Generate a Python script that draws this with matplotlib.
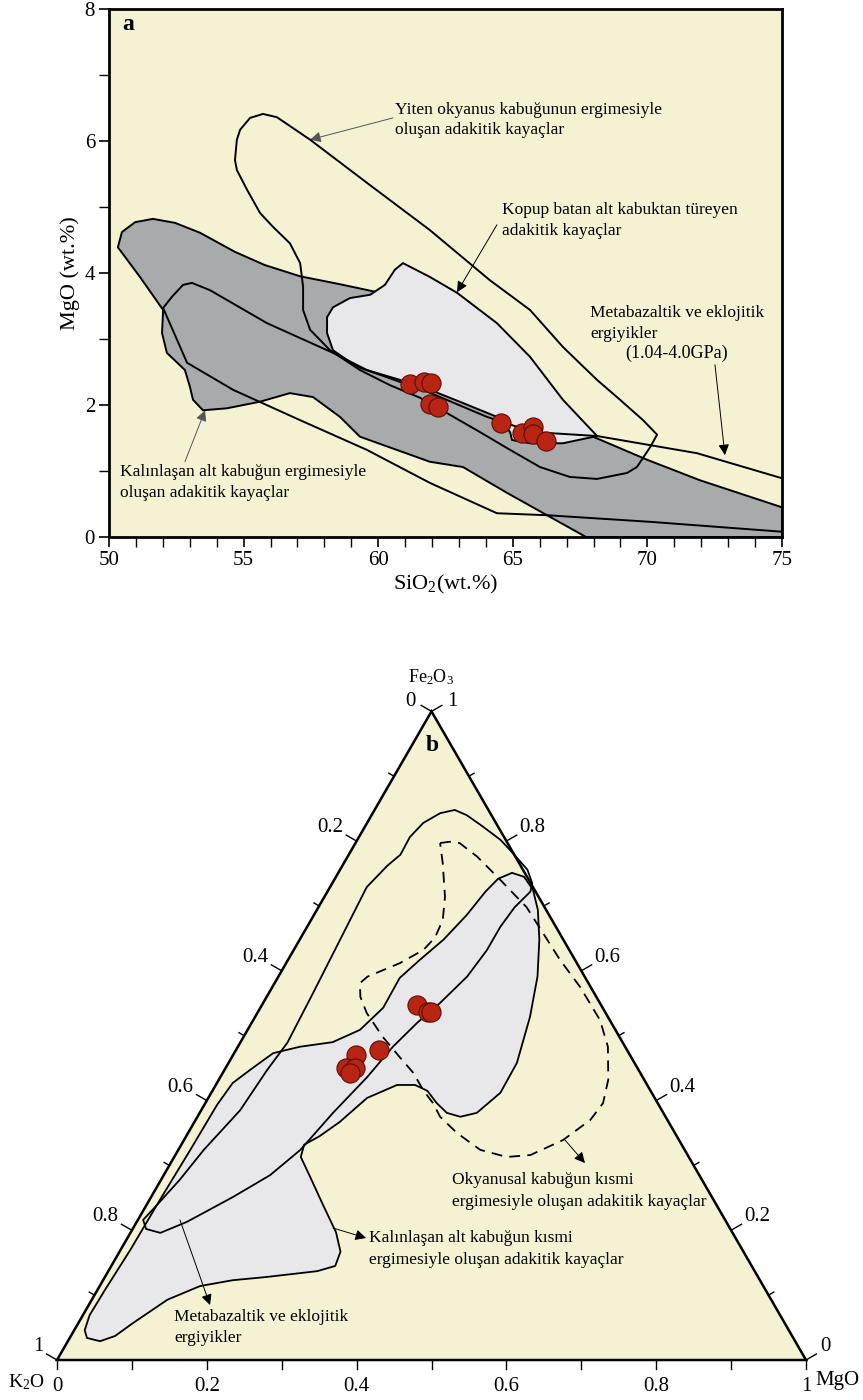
import numpy as np
import matplotlib
matplotlib.use('Agg')
import matplotlib.pyplot as plt
from matplotlib.patches import Polygon

plt.rcParams['font.family'] = ['Liberation Serif', 'DejaVu Serif']
plt.rcParams['mathtext.fontset'] = 'custom'
plt.rcParams['mathtext.rm'] = 'Liberation Serif'
plt.rcParams['mathtext.it'] = 'Liberation Serif:italic'
plt.rcParams['mathtext.bf'] = 'Liberation Serif:bold'

BG = '#f5f2d3'
DARK = '#a9aaac'
LIGHT = '#e8e8ea'
RED = '#b82512'
REDEDGE = '#5c0d05'

# ---------------- panel a data (SiO2, MgO wt.%) ----------------
oceanic_sio2 = [57.21, 57.10, 56.72, 56.09, 55.61, 55.13, 54.75, 54.68, 54.75, 54.87, 55.24, 55.72, 56.24,
                57.47, 59.70, 61.92, 64.15, 65.64, 66.86, 68.13, 68.87, 69.84, 70.36, 70.10, 69.61, 69.24,
                68.13, 67.12, 66.01, 64.90, 63.78, 62.67, 61.55, 60.44, 59.32, 58.21, 57.47, 57.21]
oceanic_mgo = [3.79, 4.15, 4.45, 4.70, 4.91, 5.26, 5.56, 5.71, 6.02, 6.17, 6.35, 6.41, 6.36,
               6.02, 5.33, 4.65, 3.89, 3.44, 2.88, 2.38, 2.12, 1.77, 1.55, 1.36, 1.06, 0.97,
               0.88, 0.91, 1.06, 1.32, 1.59, 1.85, 2.11, 2.30, 2.53, 2.83, 3.14, 3.44]

thick_sio2 = [50.33, 50.48, 50.97, 51.63, 52.45, 53.38, 54.68, 55.79, 57.10, 58.58, 59.96, 61.55, 64.52,
              66.60, 67.98, 69.99, 71.95, 75.0, 75.0, 67.72, 66.27, 64.78, 63.15, 61.92, 59.32, 58.58,
              57.58, 56.72, 55.61, 54.38, 53.49, 53.12, 53.01, 52.82, 52.15, 51.97, 52.01, 51.15]
thick_mgo = [4.39, 4.62, 4.77, 4.82, 4.76, 4.61, 4.32, 4.12, 3.95, 3.83, 3.71, 3.14, 2.08,
             1.65, 1.52, 1.17, 0.86, 0.45, 0.0, 0.0, 0.33, 0.67, 1.06, 1.14, 1.52, 1.82,
             2.12, 2.18, 2.05, 1.95, 1.92, 2.08, 2.27, 2.53, 2.79, 3.09, 3.44, 3.94]

delam_sio2 = [60.92, 61.92, 62.93, 64.41, 65.64, 66.86, 68.13, 66.86, 65.64, 64.97, 64.90, 64.41,
              63.15, 61.92, 60.81, 59.21, 58.32, 58.10, 58.10, 58.32, 58.95, 59.70, 60.25, 60.62]
delam_mgo = [4.15, 3.94, 3.70, 3.24, 2.73, 2.08, 1.53, 1.42, 1.42, 1.47, 1.59, 1.82,
             2.03, 2.23, 2.35, 2.58, 2.83, 3.09, 3.33, 3.48, 3.62, 3.67, 3.82, 4.05]

metab_top_sio2 = [52.01, 52.34, 52.75, 53.08, 53.75, 55.87, 58.32, 59.58, 60.81, 62.30, 64.04, 65.75,
                  68.13, 71.84, 75.0]
metab_top_mgo = [3.47, 3.64, 3.82, 3.85, 3.74, 3.24, 2.79, 2.53, 2.38, 2.12, 1.82, 1.59,
                 1.53, 1.27, 0.89]
metab_bot_sio2 = [52.01, 52.45, 52.90, 54.61, 57.10, 59.58, 61.92, 64.41, 66.27, 70.10, 75.0]
metab_bot_mgo = [3.47, 3.06, 2.64, 2.23, 1.77, 1.32, 0.82, 0.36, 0.33, 0.23, 0.08]

sample_sio2 = [61.18, 61.70, 61.96, 61.92, 62.22, 64.56, 65.34, 65.75, 65.75, 66.23]
sample_mgo = [2.32, 2.35, 2.33, 2.02, 1.97, 1.73, 1.58, 1.67, 1.56, 1.45]

# ---------------- panel b data (fractions MgO, Fe2O3; K2O = 1 - both) ----------------
thickb_mgo = [0.023, 0.043, 0.059, 0.073, 0.101, 0.134, 0.173, 0.216, 0.279, 0.299, 0.295, 0.274, 0.233,
              0.198, 0.169, 0.164, 0.178, 0.194, 0.212, 0.242, 0.266, 0.287, 0.309, 0.330, 0.351, 0.370,
              0.386, 0.385, 0.367, 0.346, 0.320, 0.295, 0.273, 0.251, 0.232, 0.218, 0.211, 0.204, 0.192,
              0.176, 0.163, 0.164, 0.150, 0.123, 0.083, 0.052, 0.034, 0.021, 0.017, 0.016, 0.014, 0.013,
              0.010, 0.009, 0.014]
thickb_fe = [0.034, 0.029, 0.037, 0.057, 0.093, 0.114, 0.123, 0.128, 0.137, 0.145, 0.167, 0.197, 0.242,
             0.281, 0.313, 0.332, 0.345, 0.367, 0.404, 0.424, 0.424, 0.415, 0.396, 0.381, 0.375, 0.381,
             0.412, 0.458, 0.529, 0.591, 0.648, 0.694, 0.725, 0.745, 0.751, 0.742, 0.722, 0.686, 0.648,
             0.617, 0.589, 0.543, 0.509, 0.490, 0.483, 0.473, 0.447, 0.427, 0.393, 0.324, 0.247, 0.170,
             0.108, 0.069, 0.046]

metabb_mgo = [0.107, 0.127, 0.158, 0.191, 0.212, 0.250, 0.267, 0.271, 0.262, 0.258, 0.258, 0.252, 0.236,
              0.221, 0.207, 0.196, 0.178, 0.163, 0.142, 0.109, 0.067, 0.040, 0.018, 0.007, 0.014, 0.025,
              0.034, 0.052, 0.057, 0.063, 0.059, 0.054, 0.049, 0.060, 0.069, 0.068, 0.075, 0.090]
metabb_fe = [0.848, 0.840, 0.822, 0.802, 0.786, 0.756, 0.735, 0.722, 0.698, 0.668, 0.632, 0.591, 0.550,
             0.520, 0.483, 0.436, 0.381, 0.324, 0.285, 0.251, 0.213, 0.196, 0.202, 0.216, 0.239, 0.278,
             0.324, 0.385, 0.447, 0.489, 0.566, 0.648, 0.729, 0.762, 0.779, 0.806, 0.828, 0.843]

ocean_mgo = [0.113, 0.125, 0.139, 0.173, 0.222, 0.278, 0.320, 0.363, 0.411, 0.463, 0.494, 0.520, 0.531,
             0.527, 0.506, 0.474, 0.444, 0.403, 0.359, 0.324, 0.304, 0.281, 0.254, 0.224, 0.186, 0.146,
             0.125, 0.114, 0.119, 0.152, 0.173, 0.179, 0.176, 0.161, 0.132]
ocean_fe = [0.797, 0.799, 0.797, 0.776, 0.740, 0.698, 0.658, 0.617, 0.575, 0.524, 0.483, 0.432, 0.396,
            0.370, 0.339, 0.316, 0.313, 0.324, 0.350, 0.375, 0.396, 0.416, 0.443, 0.467, 0.498, 0.535,
            0.560, 0.581, 0.591, 0.612, 0.632, 0.651, 0.678, 0.714, 0.766]

sampleb_mgo = [0.207, 0.227, 0.231, 0.191, 0.164, 0.161, 0.173, 0.170]
sampleb_fe = [0.547, 0.537, 0.537, 0.478, 0.470, 0.450, 0.450, 0.443]

ternary_ticks = [0.0, 0.2, 0.4, 0.6, 0.8, 1.0]
ternary_ticklabels = ['0', '0.2', '0.4', '0.6', '0.8', '1']

# ======================================================================
fig = plt.figure(figsize=(8.63, 14.0), dpi=100)

# ---------------- panel a ----------------
ax = fig.add_axes([109 / 863, 1 - 537 / 1400, 673 / 863, 528 / 1400])
ax.set_facecolor(BG)
ax.set_xlim(50, 75)
ax.set_ylim(0, 8)

lw = 1.4
ax.add_patch(Polygon(np.column_stack([thick_sio2, thick_mgo]), closed=True,
                     facecolor=DARK, edgecolor='black', lw=lw, joinstyle='round', zorder=2))
ax.add_patch(Polygon(np.column_stack([delam_sio2, delam_mgo]), closed=True,
                     facecolor=LIGHT, edgecolor='black', lw=lw, joinstyle='round', zorder=3))
ax.add_patch(Polygon(np.column_stack([oceanic_sio2, oceanic_mgo]), closed=True,
                     facecolor='none', edgecolor='black', lw=lw, joinstyle='round', zorder=4))
mx = metab_top_sio2[::-1] + metab_bot_sio2[1:]
my = metab_top_mgo[::-1] + metab_bot_mgo[1:]
ax.plot(mx, my, color='black', lw=lw, solid_joinstyle='round', zorder=4)
ax.scatter(sample_sio2, sample_mgo, s=190, color=RED, edgecolors=REDEDGE, linewidths=0.8, zorder=6)

ax.set_xticks([50, 55, 60, 65, 70, 75])
ax.set_xticks(np.arange(50, 76, 1), minor=True)
ax.set_yticks([0, 2, 4, 6, 8])
ax.set_yticks(np.arange(0, 9, 1), minor=True)
ax.tick_params(which='major', direction='out', length=7, width=1.2, labelsize=15, pad=3)
ax.tick_params(which='minor', direction='out', length=7, width=1.0)
for s in ax.spines.values():
    s.set_linewidth(2.0)
ax.set_xlabel(r'SiO$_2$(wt.%)', fontsize=16, labelpad=2)
ax.set_ylabel('MgO (wt.%)', fontsize=16, labelpad=3)

tfs = 12.5
arrow_kw = dict(arrowstyle='-|>', color='black', lw=0.7, mutation_scale=16, shrinkA=0, shrinkB=0)
ax.text(50.48, 7.76, 'a', fontsize=17, fontweight='bold', va='center', ha='left')
ax.text(60.62, 6.47, 'Yiten okyanus kabuğunun ergimesiyle', fontsize=tfs, va='center')
ax.text(60.62, 6.17, 'oluşan adakitik kayaçlar', fontsize=tfs, va='center')
ax.annotate('', xy=(57.47, 6.02), xytext=(60.55, 6.35),
            arrowprops=dict(arrow_kw, color='#555555'))
ax.text(64.60, 4.95, 'Kopup batan alt kabuktan türeyen', fontsize=tfs, va='center')
ax.text(64.60, 4.64, 'adakitik kayaçlar', fontsize=tfs, va='center')
ax.annotate('', xy=(62.93, 3.71), xytext=(64.41, 4.73), arrowprops=arrow_kw)
ax.text(67.87, 3.39, 'Metabazaltik ve eklojitik', fontsize=tfs, va='center')
ax.text(67.87, 3.08, 'ergiyikler', fontsize=tfs, va='center')
ax.text(69.17, 2.79, '(1.04-4.0GPa)', fontsize=tfs + 0.5, va='center')
ax.annotate('', xy=(72.88, 1.24), xytext=(72.51, 2.61), arrowprops=arrow_kw)
ax.text(50.41, 0.98, 'Kalınlaşan alt kabuğun ergimesiyle', fontsize=tfs, va='center')
ax.text(50.41, 0.67, 'oluşan adakitik kayaçlar', fontsize=tfs, va='center')
ax.annotate('', xy=(53.57, 1.92), xytext=(52.82, 1.14),
            arrowprops=dict(arrow_kw, color='#555555'))

# ---------------- panel b (ternary) ----------------
bx = fig.add_axes([0, 0, 1, 760 / 1400])
bx.set_xlim(-0.0761, 1.0761)
bx.set_ylim(-0.0534, 0.9613)
bx.axis('off')

H = np.sqrt(3) / 2


def tern(mgo, fe):
    mgo = np.asarray(mgo, float)
    fe = np.asarray(fe, float)
    return mgo + 0.5 * fe, H * fe


tri = np.array([[0, 0], [1, 0], [0.5, H]])
bx.add_patch(Polygon(tri, closed=True, facecolor=BG, edgecolor='none', zorder=1))

gx, gy = tern(thickb_mgo, thickb_fe)
bx.add_patch(Polygon(np.column_stack([gx, gy]), closed=True, facecolor=LIGHT, edgecolor='black',
                     lw=1.3, joinstyle='round', zorder=2))
fx, fy = tern(metabb_mgo, metabb_fe)
bx.add_patch(Polygon(np.column_stack([fx, fy]), closed=True, facecolor='none', edgecolor='black',
                     lw=1.3, joinstyle='round', zorder=3))
ox, oy = tern(ocean_mgo, ocean_fe)
bx.add_patch(Polygon(np.column_stack([ox, oy]), closed=True, facecolor='none', edgecolor='black',
                     lw=1.3, linestyle=(0, (6, 4)), zorder=3))
sx, sy = tern(sampleb_mgo, sampleb_fe)
bx.scatter(sx, sy, s=190, color=RED, edgecolors=REDEDGE, linewidths=0.8, zorder=6)

bx.add_patch(Polygon(tri, closed=True, facecolor='none', edgecolor='black', lw=1.8, zorder=5))

# ticks
nL = np.array([-H, 0.5])   # outward normal, left edge
nR = np.array([H, 0.5])    # outward normal, right edge
lfs = 15
for i in range(11):
    v = i / 10
    major = (i % 2 == 0)
    bx.plot([v, v], [0, -0.012], color='black', lw=1.0, zorder=5)
    p = np.array([0.5 * (1 - v), H * (1 - v)])
    L = 0.016 if major else 0.008
    bx.plot([p[0], p[0] + nL[0] * L], [p[1], p[1] + nL[1] * L], color='black', lw=1.0, zorder=5)
    q = np.array([1 - 0.5 * v, H * v])
    bx.plot([q[0], q[0] + nR[0] * L], [q[1], q[1] + nR[1] * L], color='black', lw=1.0, zorder=5)

for v, lab in zip(ternary_ticks, ternary_ticklabels):
    bx.text(v, -0.036, lab, fontsize=lfs, ha='center', va='center')
    p = np.array([0.5 * (1 - v), H * (1 - v)]) + nL * 0.018
    q = np.array([1 - 0.5 * v, H * v]) + nR * 0.018
    if v == 0.0:
        bx.text(p[0] - 0.006, p[1] + 0.004, lab, fontsize=lfs, ha='right', va='center')
        bx.text(q[0] + 0.004, q[1] + 0.009, lab, fontsize=lfs, ha='left', va='center')
    elif v == 1.0:
        bx.text(p[0] - 0.002, p[1] + 0.009, lab, fontsize=lfs, ha='right', va='center')
        bx.text(q[0] + 0.006, q[1] + 0.004, lab, fontsize=lfs, ha='left', va='center')
    else:
        bx.text(p[0] - 0.002, p[1] + 0.009, lab, fontsize=lfs, ha='right', va='center')
        bx.text(q[0] + 0.002, q[1] + 0.009, lab, fontsize=lfs, ha='left', va='center')

bx.text(-0.017, -0.030, r'K$_2$O', fontsize=lfs - 1, ha='right', va='center')
bx.text(1.012, -0.027, 'MgO', fontsize=lfs, ha='left', va='center')
bx.text(0.4993, 0.912, r'Fe$_2$O$_3$', fontsize=13, ha='center', va='center')
bx.text(0.5007, 0.8211, 'b', fontsize=17, fontweight='bold', ha='center', va='center', zorder=7)

bx.text(0.5274, 0.2403, 'Okyanusal kabuğun kısmi', fontsize=tfs, va='center')
bx.text(0.5274, 0.2110, 'ergimesiyle oluşan adakitik kayaçlar', fontsize=tfs, va='center')
bx.annotate('', xy=(0.7049, 0.2630), xytext=(0.6782, 0.2937), arrowprops=arrow_kw)
bx.text(0.4166, 0.1629, 'Kalınlaşan alt kabuğun kısmi', fontsize=tfs, va='center')
bx.text(0.4166, 0.1335, 'ergimesiyle oluşan adakitik kayaçlar', fontsize=tfs, va='center')
bx.annotate('', xy=(0.4126, 0.1629), xytext=(0.3685, 0.1762), arrowprops=arrow_kw)
bx.text(0.1562, 0.0574, 'Metabazaltik ve eklojitik', fontsize=tfs, va='center')
bx.text(0.1562, 0.0294, 'ergiyikler', fontsize=tfs, va='center')
bx.annotate('', xy=(0.2043, 0.0734), xytext=(0.1642, 0.1869), arrowprops=arrow_kw)

fig.savefig('out.png', dpi=100, facecolor='white')
